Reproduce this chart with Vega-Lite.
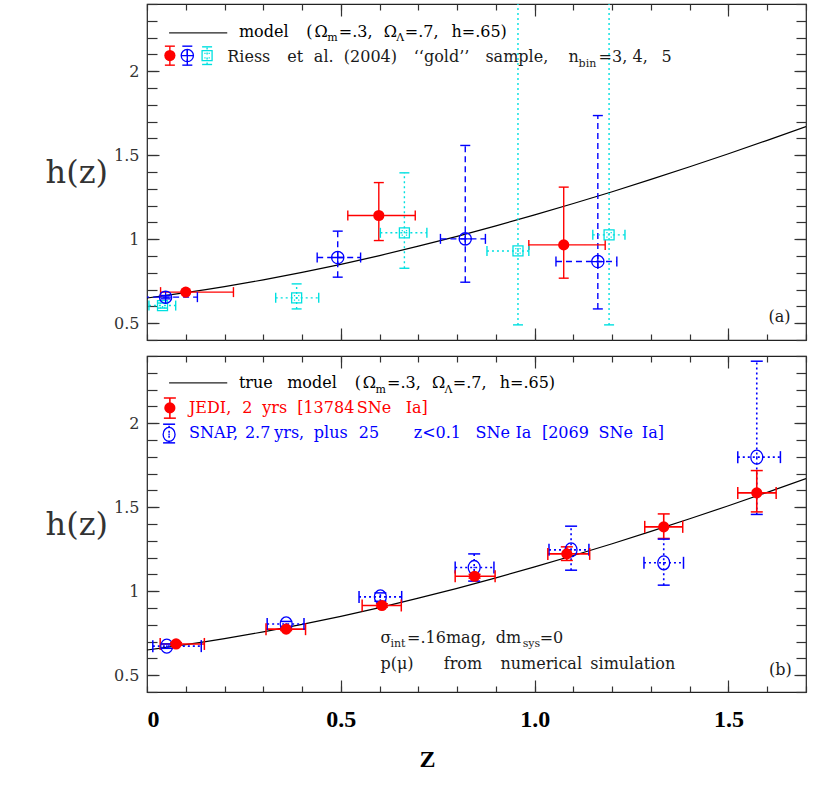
{
  "$schema": "https://vega.github.io/schema/vega-lite/v6.json",
  "background": "white",
  "padding": {"left": 44, "top": 2, "right": 5, "bottom": 5},
  "config": {
    "view": {"stroke": "#222", "strokeWidth": 1.2},
    "axis": {"grid": false, "domain": false, "tickColor": "#333", "tickWidth": 1.2, "labelFont": "DejaVu Serif", "titleFont": "DejaVu Serif"}
  },
  "datasets": {
    "curve": [
      {"z": 0, "h": 0.65}, {"z": 0.1, "h": 0.6815}, {"z": 0.2, "h": 0.7175}, {"z": 0.3, "h": 0.7578},
      {"z": 0.4, "h": 0.8022}, {"z": 0.5, "h": 0.8506}, {"z": 0.6, "h": 0.9027}, {"z": 0.7, "h": 0.9584},
      {"z": 0.8, "h": 1.0173}, {"z": 0.9, "h": 1.0794}, {"z": 1.0, "h": 1.1444}, {"z": 1.1, "h": 1.2123},
      {"z": 1.2, "h": 1.2827}, {"z": 1.3, "h": 1.3557}, {"z": 1.4, "h": 1.4311}, {"z": 1.5, "h": 1.5087},
      {"z": 1.6, "h": 1.5886}, {"z": 1.7, "h": 1.6705}
    ],
    "legline": [
      {"panel": "a", "z": 0.057, "h": 2.228}, {"panel": "a", "z": 0.207, "h": 2.228},
      {"panel": "b", "z": 0.057, "h": 2.24}, {"panel": "b", "z": 0.207, "h": 2.24}
    ],
    "pts": [
      {"panel": "a", "series": "riess5", "z": 0.04, "h": 0.605, "zlo": 0.005, "zhi": 0.074, "hlo": 0.59, "hhi": 0.62},
      {"panel": "a", "series": "riess5", "z": 0.386, "h": 0.651, "zlo": 0.332, "zhi": 0.443, "hlo": 0.585, "hhi": 0.734},
      {"panel": "a", "series": "riess5", "z": 0.664, "h": 1.038, "zlo": 0.602, "zhi": 0.722, "hlo": 0.827, "hhi": 1.395},
      {"panel": "a", "series": "riess5", "z": 0.957, "h": 0.93, "zlo": 0.877, "zhi": 0.985, "hlo": 0.49, "hhi": 2.6},
      {"panel": "a", "series": "riess5", "z": 1.192, "h": 1.026, "zlo": 1.15, "zhi": 1.233, "hlo": 0.49, "hhi": 2.6},
      {"panel": "a", "series": "riess5", "z": 0.155, "h": 2.093, "zlo": 0.155, "zhi": 0.155, "hlo": 2.04, "hhi": 2.145},
      {"panel": "a", "series": "riess4", "z": 0.048, "h": 0.655, "zlo": -0.01, "zhi": 0.13, "hlo": 0.645, "hhi": 0.665},
      {"panel": "a", "series": "riess4", "z": 0.492, "h": 0.891, "zlo": 0.439, "zhi": 0.551, "hlo": 0.774, "hhi": 1.048},
      {"panel": "a", "series": "riess4", "z": 0.821, "h": 1.002, "zlo": 0.757, "zhi": 0.873, "hlo": 0.744, "hhi": 1.558},
      {"panel": "a", "series": "riess4", "z": 1.163, "h": 0.867, "zlo": 1.055, "zhi": 1.212, "hlo": 0.585, "hhi": 1.736},
      {"panel": "a", "series": "riess4", "z": 0.104, "h": 2.093, "zlo": 0.104, "zhi": 0.104, "hlo": 2.036, "hhi": 2.149},
      {"panel": "a", "series": "riess3", "z": 0.1, "h": 0.685, "zlo": 0.035, "zhi": 0.223, "hlo": 0.678, "hhi": 0.692},
      {"panel": "a", "series": "riess3", "z": 0.598, "h": 1.141, "zlo": 0.518, "zhi": 0.692, "hlo": 0.992, "hhi": 1.337},
      {"panel": "a", "series": "riess3", "z": 1.075, "h": 0.966, "zlo": 0.985, "zhi": 1.182, "hlo": 0.768, "hhi": 1.31},
      {"panel": "a", "series": "riess3", "z": 0.059, "h": 2.093, "zlo": 0.059, "zhi": 0.059, "hlo": 2.036, "hhi": 2.149},
      {"panel": "b", "series": "snap", "z": 0.051, "h": 0.673, "zlo": 0.015, "zhi": 0.14, "hlo": 0.66, "hhi": 0.686},
      {"panel": "b", "series": "snap", "z": 0.359, "h": 0.805, "zlo": 0.31, "zhi": 0.405, "hlo": 0.79, "hhi": 0.82},
      {"panel": "b", "series": "snap", "z": 0.602, "h": 0.966, "zlo": 0.547, "zhi": 0.657, "hlo": 0.94, "hhi": 0.99},
      {"panel": "b", "series": "snap", "z": 0.844, "h": 1.141, "zlo": 0.795, "zhi": 0.895, "hlo": 1.06, "hhi": 1.222},
      {"panel": "b", "series": "snap", "z": 1.094, "h": 1.246, "zlo": 1.037, "zhi": 1.14, "hlo": 1.125, "hhi": 1.387},
      {"panel": "b", "series": "snap", "z": 1.333, "h": 1.169, "zlo": 1.282, "zhi": 1.384, "hlo": 1.036, "hhi": 1.31},
      {"panel": "b", "series": "snap", "z": 1.573, "h": 1.798, "zlo": 1.524, "zhi": 1.634, "hlo": 1.457, "hhi": 2.369},
      {"panel": "b", "series": "snap", "z": 0.057, "h": 1.933, "zlo": 0.057, "zhi": 0.057, "hlo": 1.883, "hhi": 1.994},
      {"panel": "b", "series": "jedi", "z": 0.075, "h": 0.686, "zlo": 0.034, "zhi": 0.148, "hlo": 0.678, "hhi": 0.694},
      {"panel": "b", "series": "jedi", "z": 0.359, "h": 0.774, "zlo": 0.307, "zhi": 0.409, "hlo": 0.766, "hhi": 0.782},
      {"panel": "b", "series": "jedi", "z": 0.606, "h": 0.915, "zlo": 0.555, "zhi": 0.656, "hlo": 0.905, "hhi": 0.925},
      {"panel": "b", "series": "jedi", "z": 0.845, "h": 1.089, "zlo": 0.795, "zhi": 0.898, "hlo": 1.078, "hhi": 1.1},
      {"panel": "b", "series": "jedi", "z": 1.083, "h": 1.222, "zlo": 1.034, "zhi": 1.142, "hlo": 1.183, "hhi": 1.264},
      {"panel": "b", "series": "jedi", "z": 1.333, "h": 1.383, "zlo": 1.284, "zhi": 1.382, "hlo": 1.314, "hhi": 1.46},
      {"panel": "b", "series": "jedi", "z": 1.573, "h": 1.585, "zlo": 1.524, "zhi": 1.623, "hlo": 1.472, "hhi": 1.718},
      {"panel": "b", "series": "jedi", "z": 0.059, "h": 2.091, "zlo": 0.059, "zhi": 0.059, "hlo": 2.03, "hhi": 2.15}
    ],
    "txt": [
      {"panel": "a", "kind": "main", "series": "model", "x": 0.2371, "y": 2.202, "t": "model"},
      {"panel": "a", "kind": "main", "series": "model", "x": 0.4108, "y": 2.202, "t": "("},
      {"panel": "a", "kind": "main", "series": "model", "x": 0.4322, "y": 2.202, "t": "Ω"},
      {"panel": "a", "kind": "sub", "series": "model", "x": 0.4649, "y": 2.178, "t": "m"},
      {"panel": "a", "kind": "main", "series": "model", "x": 0.4948, "y": 2.202, "t": "=.3,"},
      {"panel": "a", "kind": "main", "series": "model", "x": 0.6108, "y": 2.202, "t": "Ω"},
      {"panel": "a", "kind": "sub", "series": "model", "x": 0.6428, "y": 2.178, "t": "Λ"},
      {"panel": "a", "kind": "main", "series": "model", "x": 0.6649, "y": 2.202, "t": "=.7,"},
      {"panel": "a", "kind": "main", "series": "model", "x": 0.7853, "y": 2.202, "t": "h=.65)"},
      {"panel": "a", "kind": "main", "series": "note", "x": 0.207, "y": 2.054, "t": "Riess"},
      {"panel": "a", "kind": "main", "series": "note", "x": 0.3616, "y": 2.054, "t": "et"},
      {"panel": "a", "kind": "main", "series": "note", "x": 0.4304, "y": 2.054, "t": "al."},
      {"panel": "a", "kind": "main", "series": "note", "x": 0.5077, "y": 2.054, "t": "(2004)"},
      {"panel": "a", "kind": "main", "series": "note", "x": 0.6881, "y": 2.054, "t": "‘‘gold’’"},
      {"panel": "a", "kind": "main", "series": "note", "x": 0.8729, "y": 2.054, "t": "sample,"},
      {"panel": "a", "kind": "main", "series": "note", "x": 1.0876, "y": 2.054, "t": "n"},
      {"panel": "a", "kind": "sub", "series": "note", "x": 1.1134, "y": 2.024, "t": "bin"},
      {"panel": "a", "kind": "main", "series": "note", "x": 1.1649, "y": 2.054, "t": "=3,"},
      {"panel": "a", "kind": "main", "series": "note", "x": 1.2526, "y": 2.054, "t": "4,"},
      {"panel": "a", "kind": "main", "series": "note", "x": 1.3273, "y": 2.054, "t": "5"},
      {"panel": "a", "kind": "main", "series": "note", "x": 1.603, "y": 0.506, "t": "(a)"},
      {"panel": "b", "kind": "main", "series": "model", "x": 0.2371, "y": 2.21, "t": "true"},
      {"panel": "b", "kind": "main", "series": "model", "x": 0.3616, "y": 2.21, "t": "model"},
      {"panel": "b", "kind": "main", "series": "model", "x": 0.5361, "y": 2.21, "t": "("},
      {"panel": "b", "kind": "main", "series": "model", "x": 0.5567, "y": 2.21, "t": "Ω"},
      {"panel": "b", "kind": "sub", "series": "model", "x": 0.5894, "y": 2.18, "t": "m"},
      {"panel": "b", "kind": "main", "series": "model", "x": 0.6193, "y": 2.21, "t": "=.3,"},
      {"panel": "b", "kind": "main", "series": "model", "x": 0.7353, "y": 2.21, "t": "Ω"},
      {"panel": "b", "kind": "sub", "series": "model", "x": 0.7673, "y": 2.18, "t": "Λ"},
      {"panel": "b", "kind": "main", "series": "model", "x": 0.7887, "y": 2.21, "t": "=.7,"},
      {"panel": "b", "kind": "main", "series": "model", "x": 0.9098, "y": 2.21, "t": "h=.65)"},
      {"panel": "b", "kind": "main", "series": "jedi", "x": 0.1082, "y": 2.061, "t": "JEDI,"},
      {"panel": "b", "kind": "main", "series": "jedi", "x": 0.2456, "y": 2.061, "t": "2"},
      {"panel": "b", "kind": "main", "series": "jedi", "x": 0.2972, "y": 2.061, "t": "yrs"},
      {"panel": "b", "kind": "main", "series": "jedi", "x": 0.3874, "y": 2.061, "t": "[13784"},
      {"panel": "b", "kind": "main", "series": "jedi", "x": 0.5412, "y": 2.061, "t": "SNe"},
      {"panel": "b", "kind": "main", "series": "jedi", "x": 0.6675, "y": 2.061, "t": "Ia]"},
      {"panel": "b", "kind": "main", "series": "snap", "x": 0.1082, "y": 1.913, "t": "SNAP,"},
      {"panel": "b", "kind": "main", "series": "snap", "x": 0.2526, "y": 1.913, "t": "2.7"},
      {"panel": "b", "kind": "main", "series": "snap", "x": 0.3282, "y": 1.913, "t": "yrs,"},
      {"panel": "b", "kind": "main", "series": "snap", "x": 0.4304, "y": 1.913, "t": "plus"},
      {"panel": "b", "kind": "main", "series": "snap", "x": 0.5464, "y": 1.913, "t": "25"},
      {"panel": "b", "kind": "main", "series": "snap", "x": 0.6881, "y": 1.913, "t": "z<0.1"},
      {"panel": "b", "kind": "main", "series": "snap", "x": 0.8472, "y": 1.913, "t": "SNe"},
      {"panel": "b", "kind": "main", "series": "snap", "x": 0.9503, "y": 1.913, "t": "Ia"},
      {"panel": "b", "kind": "main", "series": "snap", "x": 1.0188, "y": 1.913, "t": "[2069"},
      {"panel": "b", "kind": "main", "series": "snap", "x": 1.1649, "y": 1.913, "t": "SNe"},
      {"panel": "b", "kind": "main", "series": "snap", "x": 1.2765, "y": 1.913, "t": "Ia]"},
      {"panel": "b", "kind": "main", "series": "note", "x": 0.6023, "y": 0.692, "t": "σ"},
      {"panel": "b", "kind": "sub", "series": "note", "x": 0.6281, "y": 0.668, "t": "int"},
      {"panel": "b", "kind": "main", "series": "note", "x": 0.6709, "y": 0.692, "t": "=.16mag,"},
      {"panel": "b", "kind": "main", "series": "note", "x": 0.8995, "y": 0.692, "t": "dm"},
      {"panel": "b", "kind": "sub", "series": "note", "x": 0.9691, "y": 0.668, "t": "sys"},
      {"panel": "b", "kind": "main", "series": "note", "x": 1.0129, "y": 0.692, "t": "=0"},
      {"panel": "b", "kind": "main", "series": "note", "x": 0.6023, "y": 0.534, "t": "p(μ)"},
      {"panel": "b", "kind": "main", "series": "note", "x": 0.7655, "y": 0.534, "t": "from"},
      {"panel": "b", "kind": "main", "series": "note", "x": 0.9116, "y": 0.534, "t": "numerical"},
      {"panel": "b", "kind": "main", "series": "note", "x": 1.1436, "y": 0.534, "t": "simulation"},
      {"panel": "b", "kind": "main", "series": "note", "x": 1.6044, "y": 0.504, "t": "(b)"}
    ]
  },
  "spacing": 12,
  "vconcat": [
    {
      "width": 659, "height": 336,
      "resolve": {"axis": {"x": "independent", "y": "independent"}},
      "layer": [
        {"data": {"name": "curve"},
         "mark": {"type": "line", "color": "#000", "strokeWidth": 1.2, "clip": true, "interpolate": "monotone"},
         "encoding": {
           "x": {"field": "z", "type": "quantitative", "scale": {"domain": [0, 1.7], "nice": false, "zero": false},
                 "axis": {"orient": "bottom", "values": [0,0.1,0.2,0.3,0.4,0.5,0.6,0.7,0.8,0.9,1,1.1,1.2,1.3,1.4,1.5,1.6,1.7], "labels": false, "tickSize": -6, "title": null}},
           "y": {"field": "h", "type": "quantitative", "scale": {"domain": [0.4, 2.4], "nice": false, "zero": false},
                 "axis": {"orient": "left", "values": [0.5,1,1.5,2], "ticks": false, "format": "~g", "labelFontSize": 16, "labelColor": "#333", "labelPadding": 8,
                          "title": "h(z)", "titleAngle": 0, "titleAlign": "right", "titleFontSize": 32, "titleFontWeight": "normal", "titleColor": "#333", "titlePadding": 6, "titleBaseline": "middle"}}
         }},
        {"data": {"name": "legline"}, "transform": [{"filter": "datum.panel === 'a'"}],
         "mark": {"type": "line", "color": "#222", "strokeWidth": 1.2},
         "encoding": {
           "x": {"field": "z", "type": "quantitative", "scale": {"domain": [0, 1.7], "nice": false, "zero": false},
                 "axis": {"orient": "bottom", "values": [0.5,1,1.5], "labels": false, "tickSize": -12, "title": null}},
           "y": {"field": "h", "type": "quantitative", "scale": {"domain": [0.4, 2.4], "nice": false, "zero": false},
                 "axis": {"orient": "left", "values": [0.4,0.5,0.6,0.7,0.8,0.9,1,1.1,1.2,1.3,1.4,1.5,1.6,1.7,1.8,1.9,2,2.1,2.2,2.3,2.4], "labels": false, "tickSize": -10, "title": null}}
         }},
        {"data": {"name": "pts"}, "transform": [{"filter": "datum.panel === 'a'"}],
         "mark": {"type": "rule", "strokeWidth": 1.4, "clip": true},
         "encoding": {
           "x": {"field": "z", "type": "quantitative", "scale": {"domain": [0, 1.7], "nice": false, "zero": false},
                 "axis": {"orient": "top", "values": [0,0.1,0.2,0.3,0.4,0.5,0.6,0.7,0.8,0.9,1,1.1,1.2,1.3,1.4,1.5,1.6,1.7], "labels": false, "tickSize": -6, "title": null}},
           "y": {"field": "hlo", "type": "quantitative", "scale": {"domain": [0.4, 2.4], "nice": false, "zero": false},
                 "axis": {"orient": "left", "values": [0.5,1,1.5,2], "labels": false, "tickSize": -12, "title": null}},
           "y2": {"field": "hhi"},
           "color": {"field": "series", "type": "nominal", "legend": null, "scale": {"domain": ["model","riess3","riess4","riess5","jedi","snap","note"], "range": ["#000000","#ff0000","#0000ff","#00e0e0","#ff0000","#0000ff","#1a1a1a"]}},
           "strokeDash": {"field": "series", "type": "nominal", "legend": null, "scale": {"domain": ["riess3","riess4","riess5","jedi","snap"], "range": [[1,0],[6,4],[2,3],[1,0],[2,3]]}}
         }},
        {"data": {"name": "pts"}, "transform": [{"filter": "datum.panel === 'a' && datum.zhi > datum.zlo"}],
         "mark": {"type": "rule", "strokeWidth": 1.4, "clip": true},
         "encoding": {
           "x": {"field": "zlo", "type": "quantitative", "scale": {"domain": [0, 1.7], "nice": false, "zero": false},
                 "axis": {"orient": "top", "values": [0.5,1,1.5], "labels": false, "tickSize": -12, "title": null}},
           "x2": {"field": "zhi"},
           "y": {"field": "h", "type": "quantitative", "scale": {"domain": [0.4, 2.4], "nice": false, "zero": false},
                 "axis": {"orient": "right", "values": [0.4,0.5,0.6,0.7,0.8,0.9,1,1.1,1.2,1.3,1.4,1.5,1.6,1.7,1.8,1.9,2,2.1,2.2,2.3,2.4], "labels": false, "tickSize": -10, "title": null}},
           "color": {"field": "series", "type": "nominal", "legend": null, "scale": {"domain": ["model","riess3","riess4","riess5","jedi","snap","note"], "range": ["#000000","#ff0000","#0000ff","#00e0e0","#ff0000","#0000ff","#1a1a1a"]}},
           "strokeDash": {"field": "series", "type": "nominal", "legend": null, "scale": {"domain": ["riess3","riess4","riess5","jedi","snap"], "range": [[1,0],[6,4],[2,3],[1,0],[2,3]]}}
         }},
        {"data": {"name": "pts"}, "transform": [{"filter": "datum.panel === 'a' && datum.zhi > datum.zlo"}],
         "mark": {"type": "tick", "orient": "vertical", "size": 10, "thickness": 1.4, "opacity": 1, "clip": true},
         "encoding": {
           "x": {"field": "zlo", "type": "quantitative", "scale": {"domain": [0, 1.7], "nice": false, "zero": false}, "axis": null},
           "y": {"field": "h", "type": "quantitative", "scale": {"domain": [0.4, 2.4], "nice": false, "zero": false},
                 "axis": {"orient": "right", "values": [0.5,1,1.5,2], "labels": false, "tickSize": -12, "title": null}},
           "color": {"field": "series", "type": "nominal", "legend": null, "scale": {"domain": ["model","riess3","riess4","riess5","jedi","snap","note"], "range": ["#000000","#ff0000","#0000ff","#00e0e0","#ff0000","#0000ff","#1a1a1a"]}}
         }},
        {"data": {"name": "pts"}, "transform": [{"filter": "datum.panel === 'a' && datum.zhi > datum.zlo"}],
         "mark": {"type": "tick", "orient": "vertical", "size": 10, "thickness": 1.4, "opacity": 1, "clip": true},
         "encoding": {
           "x": {"field": "zhi", "type": "quantitative", "scale": {"domain": [0, 1.7], "nice": false, "zero": false}, "axis": null},
           "y": {"field": "h", "type": "quantitative", "scale": {"domain": [0.4, 2.4], "nice": false, "zero": false}, "axis": null},
           "color": {"field": "series", "type": "nominal", "legend": null, "scale": {"domain": ["model","riess3","riess4","riess5","jedi","snap","note"], "range": ["#000000","#ff0000","#0000ff","#00e0e0","#ff0000","#0000ff","#1a1a1a"]}}
         }},
        {"data": {"name": "pts"}, "transform": [{"filter": "datum.panel === 'a'"}],
         "mark": {"type": "tick", "orient": "horizontal", "size": 10, "thickness": 1.4, "opacity": 1, "clip": true},
         "encoding": {
           "x": {"field": "z", "type": "quantitative", "scale": {"domain": [0, 1.7], "nice": false, "zero": false}, "axis": null},
           "y": {"field": "hlo", "type": "quantitative", "scale": {"domain": [0.4, 2.4], "nice": false, "zero": false}, "axis": null},
           "color": {"field": "series", "type": "nominal", "legend": null, "scale": {"domain": ["model","riess3","riess4","riess5","jedi","snap","note"], "range": ["#000000","#ff0000","#0000ff","#00e0e0","#ff0000","#0000ff","#1a1a1a"]}}
         }},
        {"data": {"name": "pts"}, "transform": [{"filter": "datum.panel === 'a'"}],
         "mark": {"type": "tick", "orient": "horizontal", "size": 10, "thickness": 1.4, "opacity": 1, "clip": true},
         "encoding": {
           "x": {"field": "z", "type": "quantitative", "scale": {"domain": [0, 1.7], "nice": false, "zero": false}, "axis": null},
           "y": {"field": "hhi", "type": "quantitative", "scale": {"domain": [0.4, 2.4], "nice": false, "zero": false}, "axis": null},
           "color": {"field": "series", "type": "nominal", "legend": null, "scale": {"domain": ["model","riess3","riess4","riess5","jedi","snap","note"], "range": ["#000000","#ff0000","#0000ff","#00e0e0","#ff0000","#0000ff","#1a1a1a"]}}
         }},
        {"data": {"name": "pts"}, "transform": [{"filter": "datum.panel === 'a' && datum.series === 'riess5'"}],
         "mark": {"type": "point", "filled": false, "opacity": 1, "strokeWidth": 1.3, "size": 100, "color": "#00e0e0", "clip": true,
                  "shape": "M-1,-1L1,-1L1,1L-1,1ZM-0.55,-0.45L-0.3,-0.45M0.3,-0.45L0.55,-0.45M-0.55,0.45L-0.3,0.45M0.3,0.45L0.55,0.45"},
         "encoding": {
           "x": {"field": "z", "type": "quantitative", "scale": {"domain": [0, 1.7], "nice": false, "zero": false}, "axis": null},
           "y": {"field": "h", "type": "quantitative", "scale": {"domain": [0.4, 2.4], "nice": false, "zero": false}, "axis": null}
         }},
        {"data": {"name": "pts"}, "transform": [{"filter": "datum.panel === 'a' && datum.series === 'riess4'"}],
         "mark": {"type": "point", "filled": false, "opacity": 1, "strokeWidth": 1.3, "size": 150, "color": "#0000ff", "clip": true,
                  "shape": "M-1,0A1,1,0,1,1,1,0A1,1,0,1,1,-1,0ZM-1,0L1,0M0,-1L0,1"},
         "encoding": {
           "x": {"field": "z", "type": "quantitative", "scale": {"domain": [0, 1.7], "nice": false, "zero": false}, "axis": null},
           "y": {"field": "h", "type": "quantitative", "scale": {"domain": [0.4, 2.4], "nice": false, "zero": false}, "axis": null}
         }},
        {"data": {"name": "pts"}, "transform": [{"filter": "datum.panel === 'a' && datum.series === 'riess3'"}],
         "mark": {"type": "point", "filled": true, "opacity": 1, "size": 125, "shape": "circle", "color": "#ff0000", "clip": true},
         "encoding": {
           "x": {"field": "z", "type": "quantitative", "scale": {"domain": [0, 1.7], "nice": false, "zero": false}, "axis": null},
           "y": {"field": "h", "type": "quantitative", "scale": {"domain": [0.4, 2.4], "nice": false, "zero": false}, "axis": null}
         }},
        {"data": {"name": "txt"}, "transform": [{"filter": "datum.panel === 'a' && datum.kind === 'main'"}],
         "mark": {"type": "text", "font": "DejaVu Serif", "fontSize": 16, "align": "left", "baseline": "alphabetic"},
         "encoding": {
           "x": {"field": "x", "type": "quantitative", "scale": {"domain": [0, 1.7], "nice": false, "zero": false}, "axis": null},
           "y": {"field": "y", "type": "quantitative", "scale": {"domain": [0.4, 2.4], "nice": false, "zero": false}, "axis": null},
           "text": {"field": "t"},
           "color": {"field": "series", "type": "nominal", "legend": null, "scale": {"domain": ["model","riess3","riess4","riess5","jedi","snap","note"], "range": ["#000000","#ff0000","#0000ff","#00e0e0","#ff0000","#0000ff","#1a1a1a"]}}
         }},
        {"data": {"name": "txt"}, "transform": [{"filter": "datum.panel === 'a' && datum.kind === 'sub'"}],
         "mark": {"type": "text", "font": "DejaVu Serif", "fontSize": 11, "align": "left", "baseline": "alphabetic"},
         "encoding": {
           "x": {"field": "x", "type": "quantitative", "scale": {"domain": [0, 1.7], "nice": false, "zero": false}, "axis": null},
           "y": {"field": "y", "type": "quantitative", "scale": {"domain": [0.4, 2.4], "nice": false, "zero": false}, "axis": null},
           "text": {"field": "t"},
           "color": {"field": "series", "type": "nominal", "legend": null, "scale": {"domain": ["model","riess3","riess4","riess5","jedi","snap","note"], "range": ["#000000","#ff0000","#0000ff","#00e0e0","#ff0000","#0000ff","#1a1a1a"]}}
         }}
      ]
    },
    {
      "width": 659, "height": 336,
      "resolve": {"axis": {"x": "independent", "y": "independent"}},
      "layer": [
        {"data": {"name": "curve"},
         "mark": {"type": "line", "color": "#000", "strokeWidth": 1.2, "clip": true, "interpolate": "monotone"},
         "encoding": {
           "x": {"field": "z", "type": "quantitative", "scale": {"domain": [0, 1.7], "nice": false, "zero": false},
                 "axis": {"orient": "bottom", "values": [0,0.1,0.2,0.3,0.4,0.5,0.6,0.7,0.8,0.9,1,1.1,1.2,1.3,1.4,1.5,1.6,1.7], "labels": false, "tickSize": -6, "title": null}},
           "y": {"field": "h", "type": "quantitative", "scale": {"domain": [0.4, 2.4], "nice": false, "zero": false},
                 "axis": {"orient": "left", "values": [0.5,1,1.5,2], "ticks": false, "format": "~g", "labelFontSize": 16, "labelColor": "#333", "labelPadding": 8,
                          "title": "h(z)", "titleAngle": 0, "titleAlign": "right", "titleFontSize": 32, "titleFontWeight": "normal", "titleColor": "#333", "titlePadding": 6, "titleBaseline": "middle"}}
         }},
        {"data": {"name": "legline"}, "transform": [{"filter": "datum.panel === 'b'"}],
         "mark": {"type": "line", "color": "#222", "strokeWidth": 1.2},
         "encoding": {
           "x": {"field": "z", "type": "quantitative", "scale": {"domain": [0, 1.7], "nice": false, "zero": false},
                 "axis": {"orient": "bottom", "values": [0.5,1,1.5], "labels": false, "tickSize": -12, "title": null}},
           "y": {"field": "h", "type": "quantitative", "scale": {"domain": [0.4, 2.4], "nice": false, "zero": false},
                 "axis": {"orient": "left", "values": [0.4,0.5,0.6,0.7,0.8,0.9,1,1.1,1.2,1.3,1.4,1.5,1.6,1.7,1.8,1.9,2,2.1,2.2,2.3,2.4], "labels": false, "tickSize": -10, "title": null}}
         }},
        {"data": {"name": "pts"}, "transform": [{"filter": "datum.panel === 'b'"}],
         "mark": {"type": "rule", "strokeWidth": 1.6, "clip": true},
         "encoding": {
           "x": {"field": "z", "type": "quantitative", "scale": {"domain": [0, 1.7], "nice": false, "zero": false},
                 "axis": {"orient": "top", "values": [0,0.1,0.2,0.3,0.4,0.5,0.6,0.7,0.8,0.9,1,1.1,1.2,1.3,1.4,1.5,1.6,1.7], "labels": false, "tickSize": -6, "title": null}},
           "y": {"field": "hlo", "type": "quantitative", "scale": {"domain": [0.4, 2.4], "nice": false, "zero": false},
                 "axis": {"orient": "left", "values": [0.5,1,1.5,2], "labels": false, "tickSize": -12, "title": null}},
           "y2": {"field": "hhi"},
           "color": {"field": "series", "type": "nominal", "legend": null, "scale": {"domain": ["model","riess3","riess4","riess5","jedi","snap","note"], "range": ["#000000","#ff0000","#0000ff","#00e0e0","#ff0000","#0000ff","#1a1a1a"]}},
           "strokeDash": {"field": "series", "type": "nominal", "legend": null, "scale": {"domain": ["riess3","riess4","riess5","jedi","snap"], "range": [[1,0],[6,4],[2,3],[1,0],[2,3]]}}
         }},
        {"data": {"name": "pts"}, "transform": [{"filter": "datum.panel === 'b' && datum.zhi > datum.zlo"}],
         "mark": {"type": "rule", "strokeWidth": 1.6, "clip": true},
         "encoding": {
           "x": {"field": "zlo", "type": "quantitative", "scale": {"domain": [0, 1.7], "nice": false, "zero": false},
                 "axis": {"orient": "top", "values": [0.5,1,1.5], "labels": false, "tickSize": -12, "title": null}},
           "x2": {"field": "zhi"},
           "y": {"field": "h", "type": "quantitative", "scale": {"domain": [0.4, 2.4], "nice": false, "zero": false},
                 "axis": {"orient": "right", "values": [0.4,0.5,0.6,0.7,0.8,0.9,1,1.1,1.2,1.3,1.4,1.5,1.6,1.7,1.8,1.9,2,2.1,2.2,2.3,2.4], "labels": false, "tickSize": -10, "title": null}},
           "color": {"field": "series", "type": "nominal", "legend": null, "scale": {"domain": ["model","riess3","riess4","riess5","jedi","snap","note"], "range": ["#000000","#ff0000","#0000ff","#00e0e0","#ff0000","#0000ff","#1a1a1a"]}},
           "strokeDash": {"field": "series", "type": "nominal", "legend": null, "scale": {"domain": ["riess3","riess4","riess5","jedi","snap"], "range": [[1,0],[6,4],[2,3],[1,0],[2,3]]}}
         }},
        {"data": {"name": "pts"}, "transform": [{"filter": "datum.panel === 'b' && datum.zhi > datum.zlo"}],
         "mark": {"type": "tick", "orient": "vertical", "size": 12, "thickness": 1.5, "opacity": 1, "clip": true},
         "encoding": {
           "x": {"field": "zlo", "type": "quantitative", "scale": {"domain": [0, 1.7], "nice": false, "zero": false}, "axis": null},
           "y": {"field": "h", "type": "quantitative", "scale": {"domain": [0.4, 2.4], "nice": false, "zero": false},
                 "axis": {"orient": "right", "values": [0.5,1,1.5,2], "labels": false, "tickSize": -12, "title": null}},
           "color": {"field": "series", "type": "nominal", "legend": null, "scale": {"domain": ["model","riess3","riess4","riess5","jedi","snap","note"], "range": ["#000000","#ff0000","#0000ff","#00e0e0","#ff0000","#0000ff","#1a1a1a"]}}
         }},
        {"data": {"name": "pts"}, "transform": [{"filter": "datum.panel === 'b' && datum.zhi > datum.zlo"}],
         "mark": {"type": "tick", "orient": "vertical", "size": 12, "thickness": 1.5, "opacity": 1, "clip": true},
         "encoding": {
           "x": {"field": "zhi", "type": "quantitative", "scale": {"domain": [0, 1.7], "nice": false, "zero": false},
                 "axis": {"orient": "bottom", "values": [0,0.5,1,1.5], "ticks": false, "labelExpr": "datum.value === 0 ? '0' : format(datum.value, '.1f')",
                          "labelFont": "Liberation Serif", "labelFontWeight": "bold", "labelFontSize": 24, "labelColor": "#000", "labelPadding": 15,
                          "title": "Z", "titleFont": "Liberation Serif", "titleFontWeight": "bold", "titleFontSize": 24, "titleColor": "#000", "titlePadding": 16, "titleX": 280}},
           "y": {"field": "h", "type": "quantitative", "scale": {"domain": [0.4, 2.4], "nice": false, "zero": false}, "axis": null},
           "color": {"field": "series", "type": "nominal", "legend": null, "scale": {"domain": ["model","riess3","riess4","riess5","jedi","snap","note"], "range": ["#000000","#ff0000","#0000ff","#00e0e0","#ff0000","#0000ff","#1a1a1a"]}}
         }},
        {"data": {"name": "pts"}, "transform": [{"filter": "datum.panel === 'b'"}],
         "mark": {"type": "tick", "orient": "horizontal", "size": 12, "thickness": 1.5, "opacity": 1, "clip": true},
         "encoding": {
           "x": {"field": "z", "type": "quantitative", "scale": {"domain": [0, 1.7], "nice": false, "zero": false}, "axis": null},
           "y": {"field": "hlo", "type": "quantitative", "scale": {"domain": [0.4, 2.4], "nice": false, "zero": false}, "axis": null},
           "color": {"field": "series", "type": "nominal", "legend": null, "scale": {"domain": ["model","riess3","riess4","riess5","jedi","snap","note"], "range": ["#000000","#ff0000","#0000ff","#00e0e0","#ff0000","#0000ff","#1a1a1a"]}}
         }},
        {"data": {"name": "pts"}, "transform": [{"filter": "datum.panel === 'b'"}],
         "mark": {"type": "tick", "orient": "horizontal", "size": 12, "thickness": 1.5, "opacity": 1, "clip": true},
         "encoding": {
           "x": {"field": "z", "type": "quantitative", "scale": {"domain": [0, 1.7], "nice": false, "zero": false}, "axis": null},
           "y": {"field": "hhi", "type": "quantitative", "scale": {"domain": [0.4, 2.4], "nice": false, "zero": false}, "axis": null},
           "color": {"field": "series", "type": "nominal", "legend": null, "scale": {"domain": ["model","riess3","riess4","riess5","jedi","snap","note"], "range": ["#000000","#ff0000","#0000ff","#00e0e0","#ff0000","#0000ff","#1a1a1a"]}}
         }},
        {"data": {"name": "pts"}, "transform": [{"filter": "datum.panel === 'b' && datum.series === 'snap'"}],
         "mark": {"type": "point", "filled": false, "opacity": 1, "strokeWidth": 1.3, "size": 196, "color": "#0000ff", "clip": true,
                  "shape": "M-0.85,0A0.85,1,0,1,1,0.85,0A0.85,1,0,1,1,-0.85,0ZM0,-0.12L0,0.12"},
         "encoding": {
           "x": {"field": "z", "type": "quantitative", "scale": {"domain": [0, 1.7], "nice": false, "zero": false}, "axis": null},
           "y": {"field": "h", "type": "quantitative", "scale": {"domain": [0.4, 2.4], "nice": false, "zero": false}, "axis": null}
         }},
        {"data": {"name": "pts"}, "transform": [{"filter": "datum.panel === 'b' && datum.series === 'jedi'"}],
         "mark": {"type": "point", "filled": true, "opacity": 1, "size": 125, "shape": "circle", "color": "#ff0000", "clip": true},
         "encoding": {
           "x": {"field": "z", "type": "quantitative", "scale": {"domain": [0, 1.7], "nice": false, "zero": false}, "axis": null},
           "y": {"field": "h", "type": "quantitative", "scale": {"domain": [0.4, 2.4], "nice": false, "zero": false}, "axis": null}
         }},
        {"data": {"name": "txt"}, "transform": [{"filter": "datum.panel === 'b' && datum.kind === 'main'"}],
         "mark": {"type": "text", "font": "DejaVu Serif", "fontSize": 16, "align": "left", "baseline": "alphabetic"},
         "encoding": {
           "x": {"field": "x", "type": "quantitative", "scale": {"domain": [0, 1.7], "nice": false, "zero": false}, "axis": null},
           "y": {"field": "y", "type": "quantitative", "scale": {"domain": [0.4, 2.4], "nice": false, "zero": false}, "axis": null},
           "text": {"field": "t"},
           "color": {"field": "series", "type": "nominal", "legend": null, "scale": {"domain": ["model","riess3","riess4","riess5","jedi","snap","note"], "range": ["#000000","#ff0000","#0000ff","#00e0e0","#ff0000","#0000ff","#1a1a1a"]}}
         }},
        {"data": {"name": "txt"}, "transform": [{"filter": "datum.panel === 'b' && datum.kind === 'sub'"}],
         "mark": {"type": "text", "font": "DejaVu Serif", "fontSize": 11, "align": "left", "baseline": "alphabetic"},
         "encoding": {
           "x": {"field": "x", "type": "quantitative", "scale": {"domain": [0, 1.7], "nice": false, "zero": false}, "axis": null},
           "y": {"field": "y", "type": "quantitative", "scale": {"domain": [0.4, 2.4], "nice": false, "zero": false}, "axis": null},
           "text": {"field": "t"},
           "color": {"field": "series", "type": "nominal", "legend": null, "scale": {"domain": ["model","riess3","riess4","riess5","jedi","snap","note"], "range": ["#000000","#ff0000","#0000ff","#00e0e0","#ff0000","#0000ff","#1a1a1a"]}}
         }}
      ]
    }
  ]
}
